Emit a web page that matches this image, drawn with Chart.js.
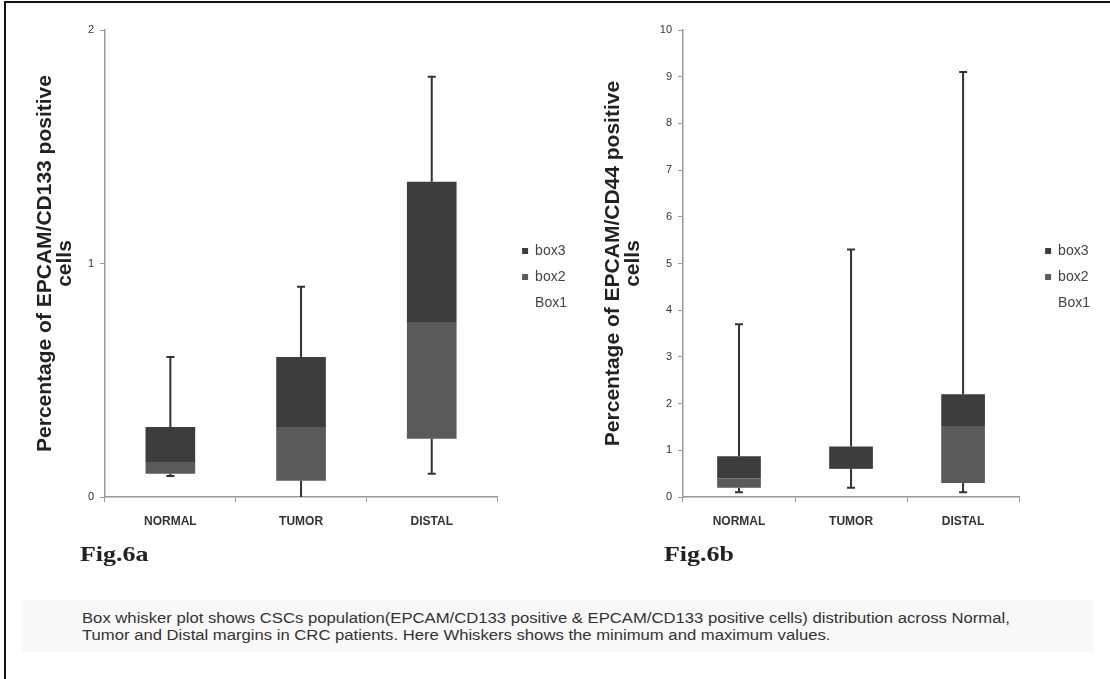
<!DOCTYPE html>
<html>
<head>
<meta charset="utf-8">
<script src="https://cdn.jsdelivr.net/npm/chart.js@4.4.1/dist/chart.umd.min.js"></script>
<style>
  html, body { margin:0; padding:0; background:#ffffff; }
  body { width:1110px; height:679px; position:relative; overflow:hidden; font-family:"Liberation Sans", Arial, sans-serif; }
  #frame { position:absolute; left:4px; top:1px; width:1120px; height:700px; border-top:2px solid #111; border-left:2px solid #111; }
  .wrap { position:absolute; top:0; overflow:hidden; }
  #wa { left:0; width:575px; height:590px; }
  #wb { left:560px; width:530px; height:590px; }
  .wrap canvas { position:absolute; left:0; top:0; }
  .fig { position:absolute; top:541px; font-family:"Liberation Serif","Times New Roman",serif; font-weight:bold; font-size:22px; color:#222; transform:scaleX(1.18); transform-origin:left top; }
  #band { position:absolute; left:22px; top:600px; width:1072px; height:52px; background:#f8f8f8; }
  #cap { position:absolute; left:82px; top:610px; font-size:14px; line-height:17px; color:#333; white-space:nowrap; transform:scaleX(1.19); transform-origin:left top; }
</style>
</head>
<body>
<div id="frame"></div>
<div id="band"></div>
<div class="wrap" id="wa"><canvas id="ca" width="567" height="590"></canvas></div>
<div class="wrap" id="wb"><canvas id="cb" width="560" height="590"></canvas></div>
<div class="fig" style="left:80px;">Fig.6a</div>
<div class="fig" style="left:664px;">Fig.6b</div>
<div id="cap">Box whisker plot shows CSCs population(EPCAM/CD133 positive &amp; EPCAM/CD133 positive cells) distribution across Normal,<br>Tumor and Distal margins in CRC patients. Here Whiskers shows the minimum and maximum values.</div>
<script>
// ---- data ----
const categories = ['NORMAL', 'TUMOR', 'DISTAL'];

// Fig.6a  EPCAM/CD133
const a_box1 = [0.10, 0.07, 0.25];
const a_box2 = [0.05, 0.23, 0.50];
const a_box3 = [0.15, 0.30, 0.60];
const a_min  = [0.09, 0.00, 0.10];
const a_max  = [0.60, 0.90, 1.80];
const a_ticks = { min: 0, max: 2, step: 1 };

// Fig.6b  EPCAM/CD44
const b_box1 = [0.20, 0.60, 0.30];
const b_box2 = [0.20, 0.02, 1.22];
const b_box3 = [0.47, 0.46, 0.68];
const b_min  = [0.10, 0.20, 0.10];
const b_max  = [3.70, 5.30, 9.10];
const b_ticks = { min: 0, max: 10, step: 1 };

const seriesNames = ['Box1', 'box2', 'box3'];

// ---- drawing ----
const FONT = '"Liberation Sans", Arial, sans-serif';
const AXIS = '#9a9a9a';

const whiskerPlugin = {
  id: 'whiskers',
  afterDatasetsDraw(chart, args, opts) {
    const ctx = chart.ctx;
    const y = chart.scales.y;
    const low = chart.getDatasetMeta(0).data;
    const top = chart.getDatasetMeta(2).data;
    ctx.save();
    ctx.strokeStyle = opts.color;
    ctx.lineWidth = opts.width;
    opts.min.forEach((mn, i) => {
      const x = top[i].x;
      const yHi = y.getPixelForValue(opts.max[i]);
      const yLo = y.getPixelForValue(mn);
      ctx.beginPath();
      ctx.moveTo(x, top[i].y); ctx.lineTo(x, yHi);
      ctx.moveTo(x - opts.cap, yHi); ctx.lineTo(x + opts.cap, yHi);
      ctx.moveTo(x, low[i].y); ctx.lineTo(x, yLo);
      if (mn > 0) { ctx.moveTo(x - opts.cap, yLo); ctx.lineTo(x + opts.cap, yLo); }
      ctx.stroke();
    });
    ctx.restore();
  }
};

// nudges the legend box after Chart.js has laid it out
const legendShift = {
  id: 'legendShift',
  afterLayout(chart, args, opts) {
    const lg = chart.legend;
    if (!lg) return;
    lg.left += opts.dx; lg.right += opts.dx;
    lg.top += opts.dy; lg.bottom += opts.dy;
  }
};

function makeChart(id, box1, box2, box3, mn, mx, tk, title, yWidth, padL, padR, barPct, dx, dy) {
  return new Chart(document.getElementById(id), {
    type: 'bar',
    data: {
      labels: categories,
      datasets: [
        { label: seriesNames[0], data: box1, backgroundColor: 'rgba(0,0,0,0)', borderWidth: 0 },
        { label: seriesNames[1], data: box2, backgroundColor: '#5a5a5a', borderWidth: 0 },
        { label: seriesNames[2], data: box3, backgroundColor: '#3d3d3d', borderWidth: 0 }
      ]
    },
    options: {
      responsive: false,
      animation: false,
      layout: { padding: { left: padL, top: 30, right: padR, bottom: 30 } },
      datasets: { bar: { categoryPercentage: 1.0, barPercentage: barPct } },
      scales: {
        x: {
          stacked: true,
          border: { display: true, color: AXIS, width: 1.5 },
          grid: { display: true, drawOnChartArea: false, drawTicks: true, tickLength: 5, color: AXIS, offset: true },
          ticks: { color: '#333', padding: 12, font: { family: FONT, size: 12, weight: 'bold' } },
          afterFit(s) { s.height = 63; }
        },
        y: {
          stacked: true,
          min: tk.min, max: tk.max,
          border: { display: true, color: AXIS, width: 1.5 },
          grid: { display: true, drawOnChartArea: false, drawTicks: true, tickLength: 5, color: AXIS },
          ticks: { stepSize: tk.step, color: '#333', padding: 6, font: { family: FONT, size: 11 } },
          title: { display: true, text: title, color: '#222', padding: 0, font: { family: FONT, size: 21, weight: 'bold', lineHeight: 0.95 } },
          afterFit(s) { s.width = yWidth; }
        }
      },
      plugins: {
        legend: {
          position: 'right',
          reverse: true,
          labels: { boxWidth: 6, boxHeight: 6, padding: 12, color: '#444', font: { family: FONT, size: 14 } }
        },
        tooltip: { enabled: false },
        whiskers: { min: mn, max: mx, color: '#333', width: 2, cap: 4 },
        legendShift: { dx: dx, dy: dy }
      }
    },
    plugins: [whiskerPlugin, legendShift]
  });
}

makeChart('ca', a_box1, a_box2, a_box3, a_min, a_max, a_ticks,
  ['Percentage of EPCAM/CD133 positive', 'cells'], 70, 35, 3, 0.38, 13, -18);
makeChart('cb', b_box1, b_box2, b_box3, b_min, b_max, b_ticks,
  ['Percentage of EPCAM/CD44 positive', 'cells'], 80, 43, 34, 0.39, 14, -18);
</script>
</body>
</html>
